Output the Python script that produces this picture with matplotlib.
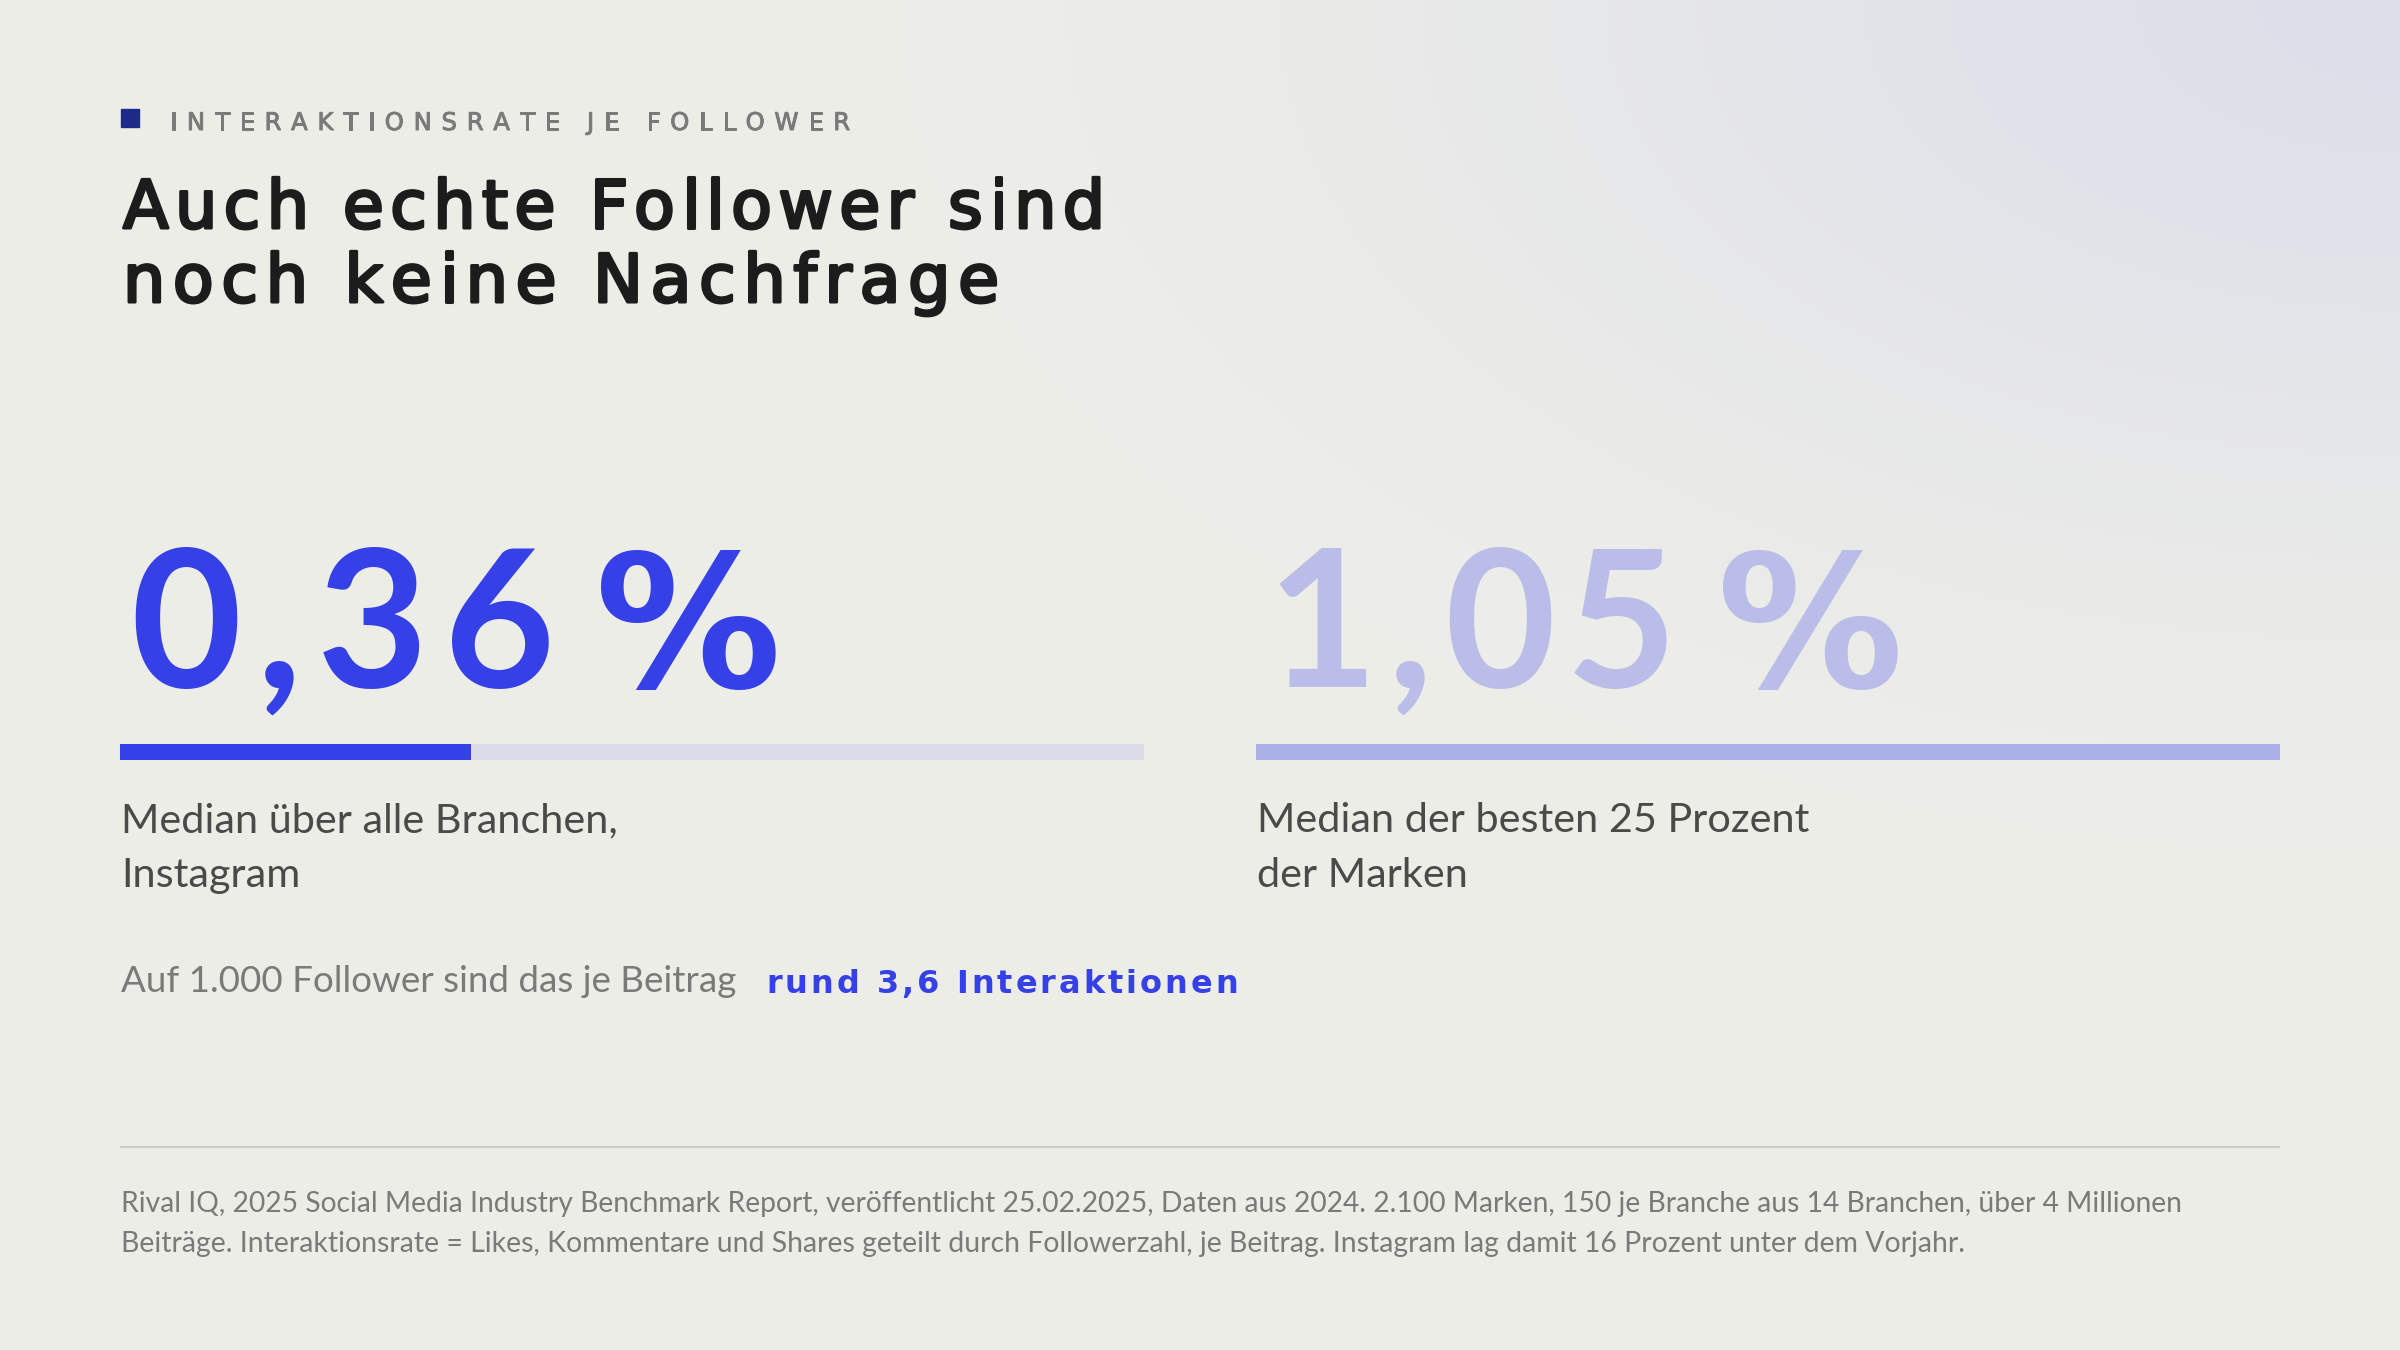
import matplotlib
import matplotlib.pyplot as plt
import numpy as np
from matplotlib import patheffects

matplotlib.use('Agg')

# ----------------------------------------- Data -----------------------------------------
values = [0.36, 1.05]
value_labels = ['0,36', '1,05']
unit = '%'
captions = [['Median über alle Branchen,', 'Instagram'],
            ['Median der besten 25 Prozent', 'der Marken']]
eyebrow = 'INTERAKTIONSRATE JE FOLLOWER'
title_lines = ['Auch echte Follower sind', 'noch keine Nachfrage']
note_text = 'Auf 1.000 Follower sind das je Beitrag'
note_highlight = 'rund 3,6 Interaktionen'
source_lines = [
    'Rival IQ, 2025 Social Media Industry Benchmark Report, veröffentlicht 25.02.2025, '
    'Daten aus 2024. 2.100 Marken, 150 je Branche aus 14 Branchen, über 4 Millionen',
    'Beiträge. Interaktionsrate = Likes, Kommentare und Shares geteilt durch Followerzahl, '
    'je Beitrag. Instagram lag damit 16 Prozent unter dem Vorjahr.',
]

BLUE = '#3540E6'
LAVENDER_TEXT = '#B9BDE7'
LAVENDER_BAR = '#AAAFE6'
TRACK = '#DADCE8'
GREY = '#7A7A78'
DARK = '#4A4A48'
INK = '#1C1C1C'

W, H = 2400, 1350
fig = plt.figure(figsize=(24, 13.5), dpi=100)
ax = fig.add_axes([0, 0, 1, 1])
ax.set_xlim(0, W)
ax.set_ylim(H, 0)
ax.axis('off')
renderer = fig.canvas.get_renderer()

# background: warm off-white with a lavender glow in the top right corner
yy, xx = np.mgrid[0:H:5, 0:W:5]
d = np.sqrt(((W - xx) / 1500.0) ** 2 + (yy / 850.0) ** 2)
wgt = np.clip(1 - d, 0, 1) ** 1.3
base = np.array([237, 237, 232]) / 255
corner = np.array([219, 221, 234]) / 255
bg = base[None, None, :] * (1 - wgt[..., None]) + corner[None, None, :] * wgt[..., None]
ax.imshow(bg, extent=[0, W, H, 0], aspect='auto', zorder=0, interpolation='bilinear')


def text_width(s, **kw):
    t = ax.text(0, 0, s, **kw)
    w = t.get_window_extent(renderer).width
    t.remove()
    return w


def char_widths(s, **kw):
    sp = text_width('n n', **kw) - text_width('nn', **kw)
    return [sp if ch == ' ' else text_width(ch, **kw) for ch in s]


def tracked(x, y, s, target, **kw):
    # letter-spaced text, spread so the ink spans `target` pixels
    ws = char_widths(s, **kw)
    track = (target - sum(ws)) / (len(s) - 1)
    for ch, w in zip(s, ws):
        if ch != ' ':
            ax.text(x, y, ch, va='baseline', ha='left', zorder=3, **kw)
        x += w + track
    return x - track


def fitted(x, y, s, target, family, base_size, **kw):
    w = text_width(s, family=family, fontsize=base_size)
    size = base_size * target / w
    ax.text(x, y, s, family=family, fontsize=size, va='baseline', ha='left', zorder=3, **kw)
    return size


# ----------------------------------------- Header -----------------------------------------
ax.add_patch(plt.Rectangle((121, 109), 18, 18, color='#1E2A87', zorder=3))
tracked(170, 130, eyebrow, 680, family='DejaVu Sans', fontsize=17.5, color=GREY,
        path_effects=[patheffects.withStroke(linewidth=0.7, foreground=GREY)])

thick = [patheffects.withStroke(linewidth=2.2, foreground=INK)]
title_widths = [982, 876]
for k, line in enumerate(title_lines):
    tracked(123, 228 + k * 74, line, title_widths[k], family='DejaVu Sans', fontsize=48,
            color=INK, path_effects=thick)

# ----------------------------------------- KPIs -----------------------------------------
num_x = [130, 1266]
num_w = [425, 411]
unit_gap = 40
bar_x = [120, 1256]
bar_w = 1024
num_colors = [BLUE, LAVENDER_TEXT]
bar_colors = [BLUE, LAVENDER_BAR]
vmax = max(values)

for i in range(len(values)):
    end = tracked(num_x[i], 687, value_labels[i], num_w[i], family='Lato', fontsize=138,
                  weight='bold', color=num_colors[i])
    ax.text(end + unit_gap, 687, unit, family='DejaVu Sans', fontsize=134, weight='bold',
            color=num_colors[i], va='baseline', ha='left', zorder=3)

    bax = fig.add_axes([bar_x[i] / W, 1 - 760 / H, bar_w / W, 16 / H])
    bax.set_xlim(0, vmax)
    bax.set_ylim(-0.5, 0.5)
    bax.axis('off')
    bax.barh(0, vmax, height=1.0, color=TRACK, linewidth=0)
    bax.barh(0, values[i], height=1.0, color=bar_colors[i], linewidth=0)

    for j, line in enumerate(captions[i]):
        ax.text(bar_x[i] + 1, 832 + j * 55, line, family='Lato', fontsize=29.8, color=DARK,
                va='baseline', ha='left', zorder=3)

# ----------------------------------------- Note -----------------------------------------
fitted(121, 992, note_text, 616, 'Lato', 25, color=GREY)
tracked(766, 993, note_highlight, 472, family='DejaVu Sans', fontsize=23, weight='bold',
        color=BLUE)

# ----------------------------------------- Source -----------------------------------------
ax.plot([121, 2279], [1147, 1147], color='#CDCDC8', lw=1.5, zorder=2)
fs = fitted(121, 1212, source_lines[0], 2060, 'Lato', 18, color=GREY)
ax.text(121, 1252, source_lines[1], family='Lato', fontsize=fs * 1.005, color=GREY,
        va='baseline', ha='left', zorder=3)

plt.savefig('out.png', dpi=100)
